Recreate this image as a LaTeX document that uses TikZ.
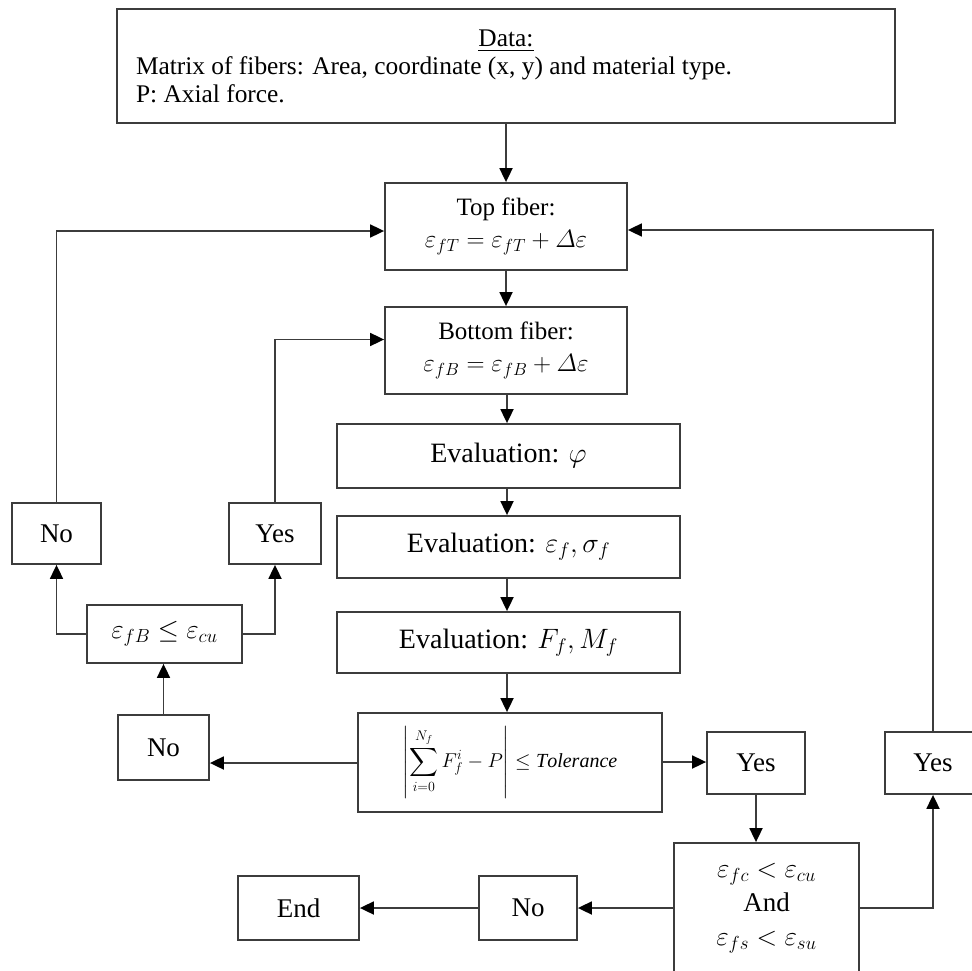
\documentclass[tikz,border=0pt]{standalone}
\usepackage{fix-cm}
\usepackage{exscale}
\usepackage{fontspec}
\setmainfont{Liberation Serif}
\usetikzlibrary{arrows.meta,calc}
\DeclareFontShape{OMX}{cmex}{m}{n}{<-7.5> cmex7 <7.5-8.5> cmex8 <8.5-9.5> cmex9 <9.5-> cmex10}{}
\definecolor{ln}{RGB}{60,60,60}
\newcommand{\Dlt}{\mathnormal{\Delta}}
\begin{document}
\begin{tikzpicture}[x=1pt,y=-1pt,
  box/.style={draw=ln, line width=1.8pt, rectangle, inner sep=0pt, align=center, font=\fontsize{25}{32}\selectfont},
  evbox/.style={box, font=\fontsize{28}{34}\selectfont, minimum width=343pt},
  small/.style={box, font=\fontsize{27}{32}\selectfont},
  con/.style={draw=ln, line width=1.8pt, -{Triangle[length=14pt,width=13pt,color=black]}}
]
\clip (0,0) rectangle (972,971);
\fill[white] (0,0) rectangle (972,971);
\coordinate (colx) at (507,0);

\node[box, minimum width=778pt, minimum height=114pt] (data) at (506,66)
  {\begin{minipage}{740pt}\fontsize{25.4}{28}\selectfont\centering\underline{Data:}\par\raggedright Matrix of fibers: Area, coordinate (x, y) and material type.\par P: Axial force.\par\end{minipage}};
\node[box, minimum width=242pt, minimum height=87pt] (top) at (506,226.5)
  {Top fiber:\\ $\varepsilon_{fT} = \varepsilon_{fT} + \Dlt\varepsilon$};
\node[box, minimum width=242pt, minimum height=87pt] (bot) at (506,350.5)
  {Bottom fiber:\\ $\varepsilon_{fB} = \varepsilon_{fB} + \Dlt\varepsilon$};
\node[evbox, minimum height=64pt] (evphi) at (508.5,456) {Evaluation: $\varphi$};
\node[evbox, minimum height=62pt] (eveps) at (508.5,547) {Evaluation: $\varepsilon_f, \sigma_f$};
\node[evbox, minimum height=61pt] (evF) at (508.5,642.5) {Evaluation: $F_f, M_f$};
\node[box, font=\fontsize{20}{26}\selectfont, minimum width=304pt, minimum height=99pt] (tol) at (510,762.5)
  {$\left|\displaystyle\sum_{i=0}^{N_f} F_f^i - P\right| \le \mathit{Tolerance}$};
\node[small, minimum width=89pt, minimum height=61pt] (no1) at (56.5,533.5) {No};
\node[small, minimum width=92pt, minimum height=61pt] (yes1) at (275,533.5) {Yes};
\node[small, minimum width=155pt, minimum height=58pt] (cmp) at (164.5,634) {$\varepsilon_{fB} \le \varepsilon_{cu}$};
\node[small, minimum width=91pt, minimum height=65pt] (no2) at (163.5,747.5) {No};
\node[small, minimum width=98pt, minimum height=62pt] (yes2) at (756,763) {Yes};
\node[small, minimum width=96pt, minimum height=62pt] (yes3) at (933,763) {Yes};
\node[small, font=\fontsize{27}{34}\selectfont, minimum width=185pt, minimum height=130pt] (dec) at (766.5,908)
  {$\varepsilon_{fc} < \varepsilon_{cu}$\\And\\$\varepsilon_{fs} < \varepsilon_{su}$};
\node[small, minimum width=98pt, minimum height=64pt] (no3) at (528,908) {No};
\node[small, minimum width=121pt, minimum height=64pt] (end) at (298.5,908) {End};

\draw[con] (data.south) -- (top.north);
\draw[con] (top.south) -- (bot.north);
\draw[con] (colx |- bot.south) -- (colx |- evphi.north);
\draw[con] (colx |- evphi.south) -- (colx |- eveps.north);
\draw[con] (colx |- eveps.south) -- (colx |- evF.north);
\draw[con] (colx |- evF.south) -- (colx |- tol.north);
\draw[con] ($(tol.west)+(0,0.5)$) -- (no2.east |- {$(tol.west)+(0,0.5)$});
\draw[con] ($(tol.east)+(0,-0.5)$) -- (yes2.west |- {$(tol.east)+(0,-0.5)$});
\draw[con] (yes2.south) -- (yes2.south |- dec.north);
\draw[con] (dec.west) -- (no3.east);
\draw[con] (no3.west) -- (end.east);
\draw[con] (dec.east) -| (yes3.south);
\draw[con] (yes3.north) |- ($(top.east)+(0,3.5)$);
\draw[con] (no2.north) -- (no2.north |- cmp.south);
\draw[con] (cmp.west) -| (no1.south);
\draw[con] (cmp.east) -| (yes1.south);
\draw[con] (no1.north) |- ($(top.west)+(0,4.5)$);
\draw[con] (yes1.north) |- ($(bot.west)+(0,-11)$);
\end{tikzpicture}
\end{document}
